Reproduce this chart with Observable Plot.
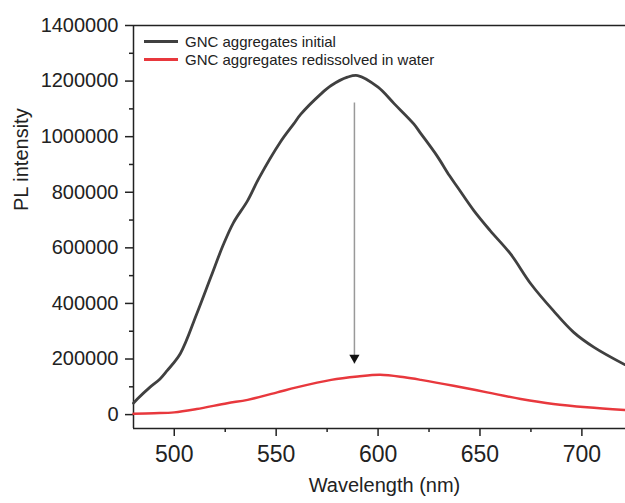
<!DOCTYPE html>
<html><head><meta charset="utf-8">
<script src="https://cdn.jsdelivr.net/npm/d3@7"></script>
<script src="https://cdn.jsdelivr.net/npm/@observablehq/plot@0.6"></script>
<style>
body{margin:0;background:#fff;}
#wrap{position:relative;width:625px;height:503px;font-family:"Liberation Sans",Arial,sans-serif;}
.legend{position:absolute;left:144px;top:32px;font-size:15px;color:#222;}
.legend .row{display:flex;align-items:center;height:18px;white-space:nowrap;}
.legend .sw{display:inline-block;width:34px;height:3px;margin-right:7px;}
</style></head><body><div id="wrap"></div>
<script>
// Series: GNC aggregates initial
const wavelengthInitial = [480, 482, 488, 493, 496.5, 503, 511, 518, 524, 529, 536, 541.5, 552, 558.6, 562, 572, 577, 585, 590, 600, 608, 617.5, 621, 629, 635, 639, 647, 655, 665, 675, 686, 696, 706, 721];
const intensityInitial = [41000, 57000, 98000, 128000, 158000, 220000, 362000, 496000, 610000, 690000, 770000, 850000, 980000, 1046000, 1080000, 1154000, 1184000, 1214000, 1220000, 1178000, 1118000, 1046000, 1011000, 930000, 860000, 818000, 734000, 662000, 578000, 470000, 374000, 296000, 242000, 180000];
// Series: GNC aggregates redissolved in water
const wavelengthRedissolved = [480, 490, 500, 511, 526, 536, 550.5, 560, 577, 590, 601, 613, 621, 637, 653.5, 670, 686, 702.5, 721];
const intensityRedissolved = [3000, 5000, 8000, 20000, 41000, 53000, 80000, 98000, 125000, 137000, 143000, 134000, 125000, 104000, 80000, 56500, 38500, 26300, 16500];
// Annotation arrow
const arrowWavelength = [588.4];
const arrowFrom = [1123000];
const arrowTo = [183500];
// Series labels & colours
const seriesNames = ["GNC aggregates initial", "GNC aggregates redissolved in water"];
const seriesColors = ["#404040", "#e8383d"];
// Axes
const xDomain = [480, 721.4];
const yDomain = [-50000, 1400000];
const xMajorTicks = [500, 550, 600, 650, 700];
const xMinorTicks = [525, 575, 625, 675];
const yMajorTicks = [0, 200000, 400000, 600000, 800000, 1000000, 1200000, 1400000];
const yMinorTicks = [100000, 300000, 500000, 700000, 900000, 1100000, 1300000];
const xLabel = "Wavelength (nm)";
const yLabel = "PL intensity";

const initial = wavelengthInitial.map((w, i) => ({w, v: intensityInitial[i]}));
const redissolved = wavelengthRedissolved.map((w, i) => ({w, v: intensityRedissolved[i]}));
const arrow = arrowWavelength.map((w, i) => ({w, from: arrowFrom[i], to: arrowTo[i]}));

const axisColor = "#222";
const chart = Plot.plot({
  width: 625, height: 503,
  marginLeft: 133, marginRight: 0, marginTop: 25, marginBottom: 75,
  style: {fontFamily: "Liberation Sans, Arial, sans-serif", color: axisColor, background: "white", overflow: "visible"},
  x: {domain: xDomain, label: null},
  y: {domain: yDomain, label: null},
  marks: [
    Plot.ruleY([yDomain[1]], {stroke: axisColor, strokeWidth: 1.5}),
    Plot.ruleY([yDomain[0]], {stroke: axisColor, strokeWidth: 1.5}),
    Plot.ruleX([xDomain[0]], {stroke: axisColor, strokeWidth: 1.5}),
    Plot.axisY(yMajorTicks, {tickSize: 8, tickPadding: 7, tickFormat: d => String(d), fontSize: 20, label: null, strokeWidth: 1.5}),
    Plot.axisY(yMinorTicks, {tickSize: 4, tickFormat: () => "", label: null, strokeWidth: 1.5}),
    Plot.axisX(xMajorTicks, {tickSize: 8, tickPadding: 9, tickFormat: d => String(d), fontSize: 23, label: null, strokeWidth: 1.5}),
    Plot.axisX(xMinorTicks, {tickSize: 4, tickFormat: () => "", label: null, strokeWidth: 1.5}),
    Plot.line(initial, {x: "w", y: "v", stroke: seriesColors[0], strokeWidth: 2.8, curve: "catmull-rom"}),
    Plot.line(redissolved, {x: "w", y: "v", stroke: seriesColors[1], strokeWidth: 2.5, curve: "catmull-rom"}),
    Plot.link(arrow, {x1: "w", x2: "w", y1: "from", y2: "to", stroke: "#999", strokeWidth: 1.5}),
    Plot.dot(arrow, {x: "w", y: "to", symbol: "triangle", r: 3.8, rotate: 180, fill: "#111", stroke: "none", dy: -6}),
    Plot.text([xLabel], {frameAnchor: "bottom", dx: 5, dy: 63, fontSize: 20, fill: axisColor}),
    Plot.text([yLabel], {frameAnchor: "left", rotate: -90, dx: -112, dy: -16, fontSize: 20, fill: axisColor})
  ]
});
const wrap = document.getElementById("wrap");
wrap.appendChild(chart);
const legend = document.createElement("div");
legend.className = "legend";
seriesNames.forEach((name, i) => {
  const row = document.createElement("div");
  row.className = "row";
  const sw = document.createElement("span");
  sw.className = "sw";
  sw.style.background = seriesColors[i];
  row.appendChild(sw);
  row.appendChild(document.createTextNode(name));
  legend.appendChild(row);
});
wrap.appendChild(legend);
</script>
</body></html>
